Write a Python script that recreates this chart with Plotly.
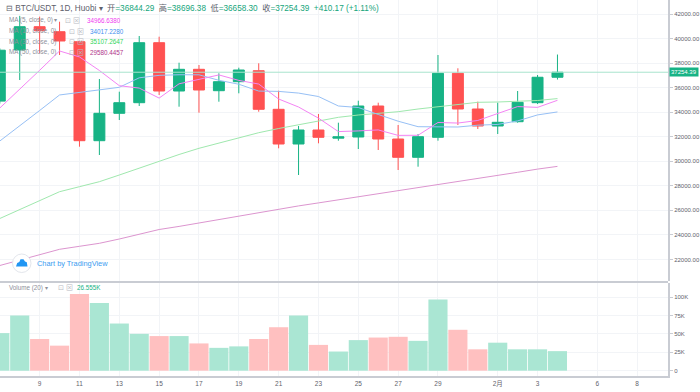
import plotly.graph_objects as go

# ---------------- data ----------------
dates = ["2021-01-07", "2021-01-08", "2021-01-09", "2021-01-10", "2021-01-11", "2021-01-12",
         "2021-01-13", "2021-01-14", "2021-01-15", "2021-01-16", "2021-01-17", "2021-01-18",
         "2021-01-19", "2021-01-20", "2021-01-21", "2021-01-22", "2021-01-23", "2021-01-24",
         "2021-01-25", "2021-01-26", "2021-01-27", "2021-01-28", "2021-01-29", "2021-01-30",
         "2021-01-31", "2021-02-01", "2021-02-02", "2021-02-03", "2021-02-04"]
opens = [34900, 39066, 40965, 40557, 39742, 31674, 33907, 34771, 39661, 35725, 37493, 35749,
         36483, 37379, 34233, 31405, 32546, 31880, 31975, 34502, 31812, 30321, 31951, 37167,
         34258, 32872, 33222, 34771, 36844.29]
highs = [39200, 41850, 41780, 41372, 39800, 36702, 35668, 40207, 40150, 38031, 37843, 37167,
         37624, 37982, 35749, 32872, 33850, 33141, 34934, 34771, 32954, 32220, 38659, 37575,
         34853, 34771, 35725, 37028, 38696.38]
lows = [34700, 36621, 38800, 38659, 31185, 30508, 33361, 34502, 35400, 34445, 33956, 34853,
        35537, 34037, 31055, 28878, 31462, 31674, 30998, 30916, 29286, 29555, 31674, 32954,
        32628, 32220, 33141, 34665, 36658.30]
closes = [39050, 40965, 40640, 39800, 31674, 33907, 34771, 39661, 35725, 37493, 35806, 36483,
          37436, 34233, 31405, 32546, 31951, 31990, 34502, 31812, 30321, 32000, 37167, 34258,
          32872, 33174, 34804, 36844.22, 37254.39]
volumes = [51000, 75000, 43000, 34000, 104000, 92000, 64000, 50000, 47000, 47000, 37000, 31000,
           33000, 43000, 59000, 75000, 35000, 26000, 41500, 45000, 46000, 40500, 96500, 55500,
           29000, 38000, 29000, 29000, 26555]
ma5 = [34339, 35847, 37412, 38985, 38500, 37397, 36158, 35963, 35148, 36311, 36691, 37034,
       36589, 36290, 35073, 34421, 33514, 32417, 32471, 32552, 32107, 32117, 33160, 33112,
       33324, 33894, 34455, 34391, 34966.6380]
ma10 = [31650, 32872, 34135, 35400, 35610, 35822, 36025, 36800, 37000, 37050, 37044, 36596,
        36276, 35719, 35692, 35556, 35274, 34503, 34381, 33812, 33264, 32816, 32789, 32791,
        32938, 33001, 33286, 33775, 34017.2280]
ma30 = [25333, 26050, 26784, 27517, 27925, 28333, 28878, 29449, 30020, 30549, 31055, 31486,
        31935, 32326, 32668, 32954, 33280, 33581, 33769, 33907, 34037, 34258, 34445, 34665,
        34804, 34828, 34869, 34950, 35107.2647]
ma50 = [21502, 21935, 22375, 22823, 23067, 23312, 23663, 24029, 24437, 24689, 24975, 25260,
        25553, 25839, 26124, 26360, 26605, 26849, 27094, 27338, 27591, 27835, 28080, 28349,
        28585, 28846, 29099, 29360, 29580.4457]

x_tick_dates = ["2021-01-09", "2021-01-11", "2021-01-13", "2021-01-15", "2021-01-17", "2021-01-19",
                "2021-01-21", "2021-01-23", "2021-01-25", "2021-01-27", "2021-01-29", "2021-02-01",
                "2021-02-03", "2021-02-06", "2021-02-08"]
x_tick_text = ["9", "11", "13", "15", "17", "19", "21", "23", "25", "27", "29", "2月", "3", "6", "8"]
price_ticks = [22000, 24000, 26000, 28000, 30000, 32000, 34000, 36000, 38000, 40000, 42000]
vol_ticks = [0, 25000, 50000, 75000, 100000]
vol_tick_text = ["0", "25K", "50K", "75K", "100K"]

# ---------------- style ----------------
W, H = 700, 392
PW, PH = 668, 376  # plot area in px
GREEN = "#17b385"
RED = "#ff5252"
VGREEN = "#aae6d3"
VRED = "#ffc0c0"
AXIS = "#c9ccd3"
GRID = "#f2f4f7"
TXT = "#6b6e78"
FONT = "Liberation Sans, Arial, Noto Sans CJK SC, sans-serif"


def PX(x):
    return x / PW


def PY(y):
    return (PH - y) / PH


fig = go.Figure()

fig.add_trace(go.Candlestick(
    x=dates, open=opens, high=highs, low=lows, close=closes,
    increasing=dict(line=dict(color=GREEN, width=1), fillcolor=GREEN),
    decreasing=dict(line=dict(color=RED, width=1), fillcolor=RED),
    whiskerwidth=0, hoverinfo="skip", showlegend=False, xaxis="x2", yaxis="y"))

for vals, col in [(ma50, "#dc95cf"), (ma30, "#9fe8ae"), (ma10, "#97c0f5"), (ma5, "#f484f4")]:
    fig.add_trace(go.Scatter(x=dates, y=vals, mode="lines", line=dict(color=col, width=1),
                             hoverinfo="skip", showlegend=False, xaxis="x2", yaxis="y"))

vcolors = [VGREEN if c >= o else VRED for o, c in zip(opens, closes)]
fig.add_trace(go.Bar(x=dates, y=volumes, marker=dict(color=vcolors, line=dict(width=0)),
                     hoverinfo="skip", showlegend=False, xaxis="x", yaxis="y2"))

xrange = ["2021-01-07 00:14", "2021-02-09 13:12"]

fig.update_layout(
    template="none",
    width=W, height=H,
    margin=dict(l=0, r=W - PW, t=0, b=H - PH, pad=0),
    paper_bgcolor="white", plot_bgcolor="white",
    boxgap=0.45, boxgroupgap=0, bargap=0.04,
    font=dict(family=FONT, color=TXT, size=6),
    xaxis=dict(type="date", range=xrange, domain=[0, 1], anchor="y2", automargin=False,
               tickvals=x_tick_dates, ticktext=x_tick_text,
               tickfont=dict(size=6.5, color="#5f626c"),
               showgrid=True, gridcolor=GRID, gridwidth=1,
               showline=True, linecolor=AXIS, linewidth=2, ticks="", zeroline=False,
               rangeslider=dict(visible=False)),
    xaxis2=dict(type="date", range=xrange, domain=[0, 1], anchor="y", matches="x", automargin=False,
                tickvals=x_tick_dates, showticklabels=False, ticks="",
                showgrid=True, gridcolor=GRID, gridwidth=1, showline=False, zeroline=False,
                rangeslider=dict(visible=False)),
    yaxis=dict(domain=[PY(281), 1], range=[20240, 43141], side="right", automargin=False,
               tickvals=price_ticks, ticktext=[f"{v:.2f}" for v in price_ticks],
               tickfont=dict(size=6, color="#5f626c"),
               showgrid=True, gridcolor=GRID, gridwidth=1, zeroline=False,
               showline=True, linecolor=AXIS, linewidth=2,
               ticks="outside", ticklen=3, tickcolor=AXIS, anchor="x2"),
    yaxis2=dict(domain=[0, PY(283)], range=[-7200, 119000], side="right", automargin=False,
                tickvals=vol_ticks, ticktext=vol_tick_text,
                tickfont=dict(size=6, color="#5f626c"),
                showgrid=True, gridcolor=GRID, gridwidth=1, zeroline=False,
                showline=True, linecolor=AXIS, linewidth=2,
                ticks="outside", ticklen=3, tickcolor=AXIS, anchor="x"),
)

shapes = []
# pane separator
shapes.append(dict(type="line", xref="paper", yref="paper", x0=0, x1=1, y0=PY(282), y1=PY(282),
                   line=dict(color=AXIS, width=2)))
# last price line
shapes.append(dict(type="line", xref="paper", yref="y", x0=0, x1=1, y0=closes[-1], y1=closes[-1],
                   line=dict(color="#a8e4cd", width=1)))
# TradingView logo circle
shapes.append(dict(type="circle", xref="paper", yref="paper", x0=PX(12.5), x1=PX(31),
                   y0=PY(272.5), y1=PY(254), fillcolor="white", line=dict(color="#e3e6ec", width=1)))
logo_pts = [(16, 266.5), (17.2, 263), (19.3, 262), (20.5, 259.3), (23.5, 259.3), (25, 261.5),
            (26.8, 262.3), (27.5, 266.5)]
path = "M " + " L ".join(f"{PX(a):.5f},{PY(b):.5f}" for a, b in logo_pts) + " Z"
shapes.append(dict(type="path", xref="paper", yref="paper", path=path,
                   fillcolor="#2196f3", line=dict(width=0)))
fig.update_layout(shapes=shapes)

ann = []


def text(x, y, t, size, color=TXT, **kw):
    ann.append(dict(xref="paper", yref="paper", x=PX(x), y=PY(y), text=t, showarrow=False,
                    xanchor="left", yanchor="middle", font=dict(size=size, color=color, family=FONT),
                    **kw))


G2 = "#15a57b"
chg = closes[-1] - closes[-2]
pct = chg / closes[-2] * 100
hdr = (f"<span style='color:#5d606b'>⊟ BTC/USDT, 1D, Huobi ▾</span>  "
       f"<span style='color:#5d606b'>开</span>={opens[-1]:.2f}  "
       f"<span style='color:#5d606b'>高</span>={highs[-1]:.2f}  "
       f"<span style='color:#5d606b'>低</span>={lows[-1]:.2f}  "
       f"<span style='color:#5d606b'>收</span>={closes[-1]:.2f}  "
       f"{chg:+.2f} ({pct:+.2f}%)")
text(4, 8, hdr, 8.2, G2)

legend_rows = [("MA (5, close, 0) ▾", ma5[-1], "#f03cf0", 20, 63, 85),
               ("MA (10, close, 0)", ma10[-1], "#3f8ff0", 31, 66.5, 88),
               ("MA (30, close, 0)", ma30[-1], "#2fd65a", 41.7, 66.5, 88),
               ("MA (50, close, 0)", ma50[-1], "#b0358a", 52.3, 66.5, 88)]
for lab, val, col, y, ix, vx in legend_rows:
    text(7, y, lab, 6.3, "#8d909a")
    text(ix, y, "⊡ ⊠", 7, "#b8bbc3")
    text(vx, y, f"{val:.4f}", 6.3, col)

text(7, 287.5, "Volume (20) ▾", 6.3, "#8d909a")
text(56, 287.5, "⊡ ⊠", 7, "#b8bbc3")
text(75, 287.5, f"{volumes[-1] / 1000:.3f}K", 6.3, GREEN)

text(35, 263.3, "Chart by TradingView", 7.4, "#3a9cf0")

# last price label on axis
ann.append(dict(xref="paper", yref="y", x=1, y=closes[-1], text=f"{closes[-1]:.2f}",
                showarrow=False, xanchor="left", yanchor="middle", xshift=1,
                bgcolor=GREEN, borderpad=1, font=dict(size=6, color="white", family=FONT)))
fig.update_layout(annotations=ann)

fig.write_html("out.html", config={"displayModeBar": False},
               post_script="document.body.style.margin='0px';")
